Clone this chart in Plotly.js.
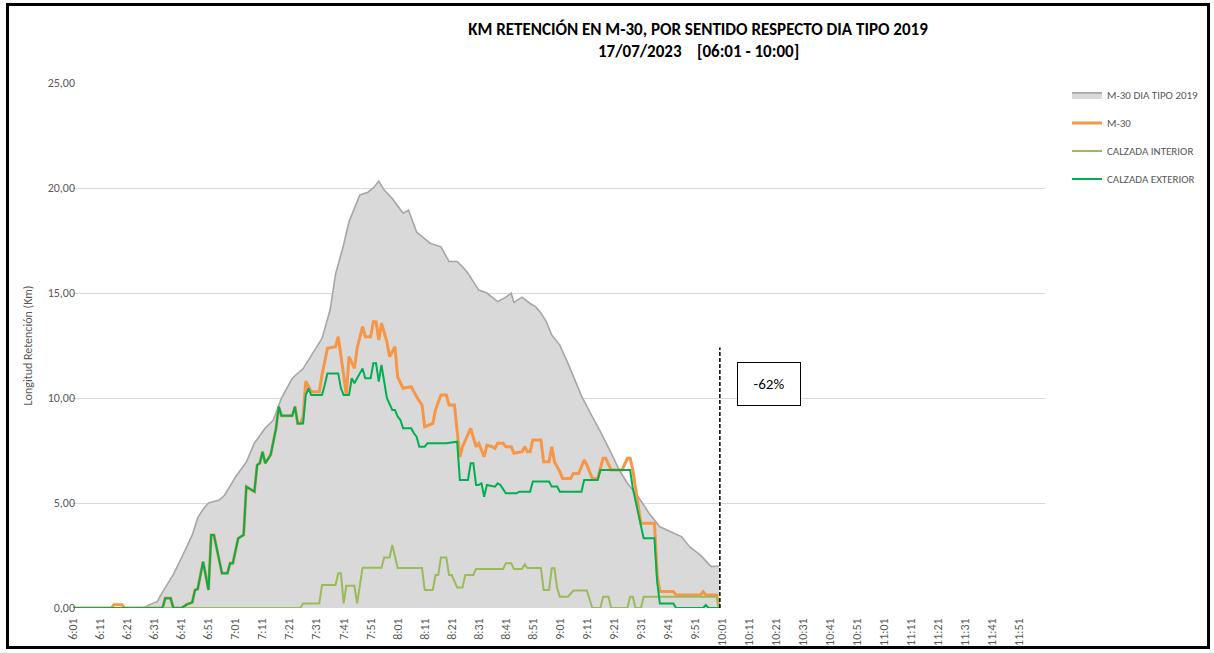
<!DOCTYPE html>
<html>
<head>
<meta charset="utf-8">
<script src="https://cdn.plot.ly/plotly-3.0.1.min.js"></script>
<style>
  html, body { margin: 0; padding: 0; background: #ffffff; }
  #wrap { position: relative; width: 1214px; height: 653px; }
  #chart { width: 1214px; height: 653px; }
  #frame { position: absolute; left: 6px; top: 3px; width: 1204px; height: 646px;
           box-sizing: border-box; border: 3px solid #000; pointer-events: none; }
</style>
</head>
<body>
<div id="wrap"><div id="chart"></div><div id="frame"></div></div>
<script>
// ---- Data ----
const tickLabels = ["6:01","6:11","6:21","6:31","6:41","6:51","7:01","7:11","7:21","7:31","7:41","7:51",
  "8:01","8:11","8:21","8:31","8:41","8:51","9:01","9:11","9:21","9:31","9:41","9:51",
  "10:01","10:11","10:21","10:31","10:41","10:51","11:01","11:11","11:21","11:31","11:41","11:51"];
const yTicks = [0, 5, 10, 15, 20, 25];

// M-30 DIA TIPO 2019 (grey area)
const tipoTimes = ["6:01","6:27","6:29","6:31","6:32","6:34","6:38","6:41","6:45","6:47","6:49","6:51","6:55","6:57",
  "7:01","7:05","7:08","7:12","7:15","7:18","7:22","7:26","7:30","7:33","7:36","7:38","7:41","7:43","7:47","7:50",
  "7:52","7:54","7:56","7:59","8:03","8:05","8:08","8:13","8:17","8:20","8:23","8:25","8:27","8:31","8:34","8:38",
  "8:41","8:43","8:44","8:47","8:50","8:52","8:54","8:56","8:58","9:01","9:04","9:07","9:09","9:12","9:16","9:20",
  "9:23","9:26","9:30","9:34","9:38","9:42","9:46","9:49","9:53","9:57","10:00"];
const tipoValues = [0,0,0.15,0.25,0.3,0.76,1.6,2.38,3.48,4.29,4.7,5.0,5.14,5.38,
  6.24,6.95,7.86,8.57,8.95,10.0,10.94,11.4,12.2,12.84,14.2,15.9,17.3,18.4,19.67,19.8,
  20.0,20.33,19.9,19.5,18.8,18.95,17.9,17.37,17.2,16.5,16.5,16.25,15.94,15.14,15.0,14.59,
  14.8,15.0,14.55,14.8,14.5,14.35,14.05,13.63,13.0,12.52,11.65,10.7,10.1,9.35,8.4,7.37,
  6.57,5.94,5.3,4.51,3.87,3.63,3.4,2.92,2.52,1.97,2.0];

// M-30 (orange)
const m30Times = ["6:01","6:15","6:16","6:19","6:20","6:34","6:35","6:37","6:38","6:41","6:43","6:45","6:46","6:47",
  "6:49","6:51","6:52","6:53","6:56","6:58","6:59","7:00","7:02","7:04","7:05","7:06","7:08","7:09","7:10","7:11",
  "7:12","7:14","7:15","7:16","7:17","7:18","7:22","7:23","7:24","7:25","7:26","7:27","7:29","7:32","7:33","7:35",
  "7:38","7:39","7:41","7:42","7:43","7:45","7:46","7:48","7:49","7:51","7:52","7:53","7:54","7:55","7:57","7:58",
  "8:00","8:01","8:03","8:06","8:08","8:10","8:11","8:14","8:15","8:17","8:19","8:20","8:22","8:23","8:24","8:25",
  "8:27","8:28","8:30","8:31","8:33","8:34","8:36","8:37","8:38","8:40","8:41","8:43","8:44","8:46","8:47","8:48",
  "8:49","8:50","8:51","8:54","8:55","8:57","8:58","8:59","9:01","9:02","9:05","9:06","9:08","9:10","9:11","9:13",
  "9:15","9:17","9:18","9:20","9:24","9:26","9:27","9:28","9:30","9:31","9:36","9:37","9:38","9:43","9:44","9:53",
  "9:54","9:55","9:59","10:00"];
const m30Values = [0,0,0.15,0.15,0,0,0.46,0.46,0,0,0.17,0.27,0.86,0.9,
  2.2,0.86,3.48,3.48,1.65,1.65,2.13,2.13,3.32,3.48,5.78,5.7,5.54,6.81,6.9,7.44,
  6.89,7.29,7.92,8.56,9.59,9.16,9.16,9.59,8.79,8.79,9.1,10.8,10.3,10.3,11.1,12.37,
  12.44,12.92,11.1,10.14,11.97,11.41,12.37,13.4,12.92,12.92,13.63,13.63,12.76,13.56,12.68,11.97,
  12.44,11.0,10.46,10.54,10.06,9.67,8.63,8.79,9.43,10.14,10.14,9.67,9.67,8.56,7.2,7.68,
  8.24,8.56,7.68,7.84,7.2,7.76,7.68,7.6,7.84,7.84,7.68,7.68,7.37,7.44,7.44,7.68,
  7.44,7.44,8.0,8.0,6.97,6.97,7.68,6.97,6.49,6.17,6.17,6.41,6.41,7.05,6.81,6.17,
  6.17,7.13,7.13,6.57,6.57,7.13,7.13,6.57,4.9,4.03,4.03,1.6,0.78,0.78,0.62,0.62,
  0.78,0.62,0.62,0];

// CALZADA INTERIOR (light green)
const intTimes = ["6:01","7:25","7:26","7:32","7:33","7:38","7:39","7:40","7:41","7:42","7:45","7:46","7:48","7:55",
  "7:56","7:58","7:59","8:00","8:01","8:10","8:11","8:14","8:15","8:16","8:17","8:19","8:20","8:21","8:23","8:25",
  "8:26","8:29","8:30","8:40","8:41","8:43","8:44","8:47","8:48","8:49","8:54","8:55","8:57","8:58","8:59","9:00",
  "9:01","9:04","9:06","9:11","9:13","9:16","9:17","9:19","9:20","9:26","9:27","9:28","9:29","9:31","9:32","9:59","10:00"];
const intValues = [0,0,0.22,0.22,1.1,1.1,1.65,1.65,0.22,1.06,1.06,0.22,1.92,1.92,
  2.4,2.4,3.0,2.5,1.9,1.9,0.86,0.86,1.57,1.57,2.4,2.4,1.57,1.57,0.98,0.98,
  1.57,1.57,1.86,1.86,2.13,2.13,1.86,1.86,2.08,1.9,1.9,0.86,0.86,1.89,1.89,0.94,
  0.54,0.54,0.83,0.83,0,0,0.54,0.54,0,0,0.54,0.54,0,0,0.54,0.54,0];

// CALZADA EXTERIOR (green)
const extTimes = ["6:01","6:34","6:35","6:37","6:38","6:41","6:43","6:45","6:46","6:47",
  "6:49","6:51","6:52","6:53","6:56","6:58","6:59","7:00","7:02","7:04","7:05","7:06","7:08","7:09","7:10","7:11",
  "7:12","7:14","7:15","7:16","7:17","7:18","7:22","7:23","7:24","7:26","7:27","7:28","7:29","7:33","7:34","7:35",
  "7:39","7:40","7:41","7:43","7:44","7:45","7:46","7:48","7:49","7:51","7:52","7:53","7:54","7:55","7:57","7:59",
  "8:00","8:01","8:02","8:03","8:06","8:07","8:08","8:09","8:11","8:12","8:19","8:23","8:24","8:27","8:28","8:29",
  "8:30","8:31","8:32","8:33","8:34","8:37","8:38","8:39","8:41","8:45","8:46","8:50","8:51","8:57","8:58","9:00",
  "9:01","9:09","9:10","9:15","9:16","9:27","9:28","9:30","9:32","9:36","9:37","9:38","9:43","9:44","9:54","9:55",
  "9:56","10:00"];
const extValues = [0,0,0.46,0.46,0,0,0.17,0.27,0.86,0.9,
  2.2,0.86,3.48,3.48,1.65,1.65,2.13,2.13,3.32,3.48,5.78,5.7,5.54,6.81,6.9,7.44,
  6.89,7.29,7.92,8.56,9.59,9.16,9.16,9.59,8.79,8.79,10.14,10.46,10.14,10.14,10.62,11.17,
  11.17,10.46,10.14,10.14,10.94,10.7,10.94,11.41,10.94,10.94,11.65,11.65,10.78,11.57,10.0,9.43,
  9.43,9.11,8.95,8.56,8.56,8.32,8.16,7.68,7.68,7.84,7.84,7.92,6.1,6.1,6.89,6.89,
  5.86,5.86,5.94,5.3,5.86,5.78,5.94,5.86,5.46,5.46,5.54,5.54,6.02,6.02,5.78,5.78,
  5.54,5.54,6.1,6.1,6.57,6.57,5.7,4.59,3.32,3.32,1.25,0.22,0.22,0,0,0.14,
  0,0];

const titleLine1 = "KM RETENCIÓN EN M-30, POR SENTIDO RESPECTO DIA TIPO 2019";
const titleLine2 = "17/07/2023    [06:01 - 10:00]";

// ---- Helpers ----
function toIdx(t) { const p = t.split(":"); return (+p[0]) * 60 + (+p[1]) - 361; }

const FONT = "Carlito, Calibri, 'Liberation Sans Narrow', 'Liberation Sans', sans-serif";
const GREY_TXT = "#595959";

const traces = [
  { name: "M-30 DIA TIPO 2019", x: tipoTimes.map(toIdx), y: tipoValues, type: "scatter", mode: "lines",
    fill: "tozeroy", fillcolor: "#d9d9d9", line: { color: "#a6a6a6", width: 1.6 }, legendgroup: "a" },
  { name: "M-30", x: m30Times.map(toIdx), y: m30Values, type: "scatter", mode: "lines",
    line: { color: "#f79646", width: 3 }, legendgroup: "b" },
  { name: "CALZADA INTERIOR", x: intTimes.map(toIdx), y: intValues, type: "scatter", mode: "lines",
    line: { color: "#9bbb59", width: 2 }, legendgroup: "c" },
  { name: "CALZADA EXTERIOR", x: extTimes.map(toIdx), y: extValues, type: "scatter", mode: "lines",
    line: { color: "#00b050", width: 2 }, legendgroup: "d" }
];

const layout = {
  width: 1214, height: 653,
  margin: { l: 72, r: 169, t: 83, b: 45, autoexpand: false },
  paper_bgcolor: "#ffffff", plot_bgcolor: "#ffffff",
  separators: ",.",
  font: { family: FONT, color: GREY_TXT, size: 11 },
  showlegend: true,
  hovermode: false,
  title: {
    text: "<b>" + titleLine1 + "</b>",
    font: { family: FONT, size: 17, color: "#000000" },
    xref: "container", x: 698 / 1214, xanchor: "center",
    yref: "container", y: 1 - 29 / 653, yanchor: "middle"
  },
  xaxis: {
    range: [-0.5, 359.5], tickmode: "array",
    tickvals: tickLabels.map(toIdx), ticktext: tickLabels,
    tickangle: -90, ticks: "", showgrid: false, zeroline: false,
    showline: false, ticklabelstandoff: 7, automargin: false,
    tickfont: { family: FONT, size: 12, color: GREY_TXT }
  },
  yaxis: {
    range: [0, 25], tickmode: "array", tickvals: yTicks, tickformat: ".2f",
    showgrid: true, gridcolor: "#d9d9d9", gridwidth: 1, zeroline: false, showline: false,
    ticks: "", ticklabelstandoff: -4, automargin: false,
    tickfont: { family: FONT, size: 12, color: GREY_TXT },
    title: { text: "Longitud Retención (Km)", font: { family: FONT, size: 12, color: GREY_TXT }, standoff: 12 }
  },
  legend: {
    x: (1067 - 72) / 973, y: 1.005, xanchor: "left", yanchor: "top",
    font: { family: FONT, size: 11, color: GREY_TXT },
    tracegroupgap: 9, itemwidth: 30, traceorder: "grouped",
    bgcolor: "rgba(0,0,0,0)"
  },
  shapes: [
    { type: "line", xref: "x", yref: "y", x0: 239.2, x1: 239.2, y0: 0, y1: 12.4,
      line: { color: "#000000", width: 1.5, dash: "4px,2px" } }
  ],
  annotations: [
    { xref: "paper", yref: "paper", x: (698 - 72) / 973, y: (608 - 51) / 525, text: "<b>" + titleLine2 + "</b>",
      showarrow: false, xanchor: "center", yanchor: "middle",
      font: { family: FONT, size: 17, color: "#000000" } },
    { xref: "x", yref: "y", x: 257.3, y: 10.67, text: "-62%", showarrow: false,
      font: { family: FONT, size: 15, color: "#000000" },
      bordercolor: "#000000", borderwidth: 1, borderpad: 0, width: 62, height: 42,
      bgcolor: "#ffffff" }
  ]
};

Plotly.newPlot("chart", traces, layout, { staticPlot: true, displayModeBar: false });
</script>
</body>
</html>
